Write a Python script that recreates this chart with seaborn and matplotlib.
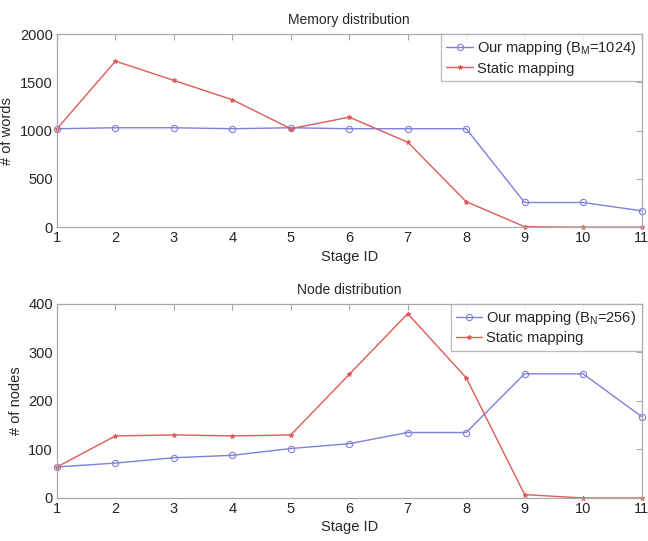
import numpy as np
import pandas as pd
import matplotlib
matplotlib.use("Agg")
import matplotlib.pyplot as plt
import seaborn as sns

# Data
stages = [1, 2, 3, 4, 5, 6, 7, 8, 9, 10, 11]

mem_ours = [1020, 1030, 1030, 1020, 1030, 1020, 1020, 1020, 256, 256, 170]
mem_static = [1020, 1720, 1520, 1320, 1020, 1140, 880, 265, 5, 0, 0]

node_ours = [64, 72, 83, 88, 102, 112, 135, 135, 256, 256, 168]
node_static = [64, 128, 130, 128, 130, 255, 380, 248, 7, 0, 0]

mem_labels = ["Our mapping ($\\mathregular{B_M}$=1024)", "Static mapping"]
node_labels = ["Our mapping ($\\mathregular{B_N}$=256)", "Static mapping"]

sns.set_style("white")
plt.rcParams["font.family"] = ["Liberation Sans", "DejaVu Sans"]
plt.rcParams["mathtext.fontset"] = "custom"
plt.rcParams["mathtext.rm"] = "Liberation Sans"

blue = "#7f7fdc"
red = "#e05a5a"
edge = "#a8a8a8"

fig = plt.figure(figsize=(6.48, 5.41), dpi=100)
ax1 = fig.add_axes([0.088, 0.580, 0.902, 0.357])
ax2 = fig.add_axes([0.088, 0.0795, 0.902, 0.3586])


def draw_panel(ax, ours, static, labels, title, ylabel, ymax, ystep):
    df = pd.DataFrame({"stage": stages, "ours": ours, "static": static})
    sns.lineplot(data=df, x="stage", y="ours", ax=ax, color=blue, lw=1,
                 marker="o", markersize=4.5, markerfacecolor="none",
                 markeredgecolor=blue, markeredgewidth=0.8, label=labels[0],
                 clip_on=False)
    sns.lineplot(data=df, x="stage", y="static", ax=ax, color=red, lw=1,
                 marker="*", markersize=3.5, markeredgecolor=red,
                 label=labels[1], clip_on=False)
    ax.set_xlim(1, 11)
    ax.set_ylim(0, ymax)
    ax.set_xticks(stages)
    ax.set_yticks(np.arange(0, ymax + 1, ystep))
    ax.tick_params(direction="in", length=4, color=edge, top=True, right=True,
                   labelsize=10.5, pad=3)
    for s in ax.spines.values():
        s.set_color(edge)
        s.set_linewidth(0.9)
    ax.set_title(title, fontsize=10, pad=7)
    ax.set_xlabel("Stage ID", fontsize=10.5, labelpad=3)
    ax.set_ylabel(ylabel, fontsize=10.5, labelpad=4)
    leg = ax.legend(loc="upper right", fontsize=10.5, frameon=True, fancybox=False,
                    borderaxespad=0, handlelength=1.8, handletextpad=0.3,
                    borderpad=0.35, labelspacing=0.3)
    leg.get_frame().set_edgecolor(edge)
    leg.get_frame().set_linewidth(0.9)


draw_panel(ax1, mem_ours, mem_static, mem_labels, "Memory distribution",
           "# of words", 2000, 500)
draw_panel(ax2, node_ours, node_static, node_labels, "Node distribution",
           "# of nodes", 400, 100)

fig.savefig("out.png", dpi=100)
